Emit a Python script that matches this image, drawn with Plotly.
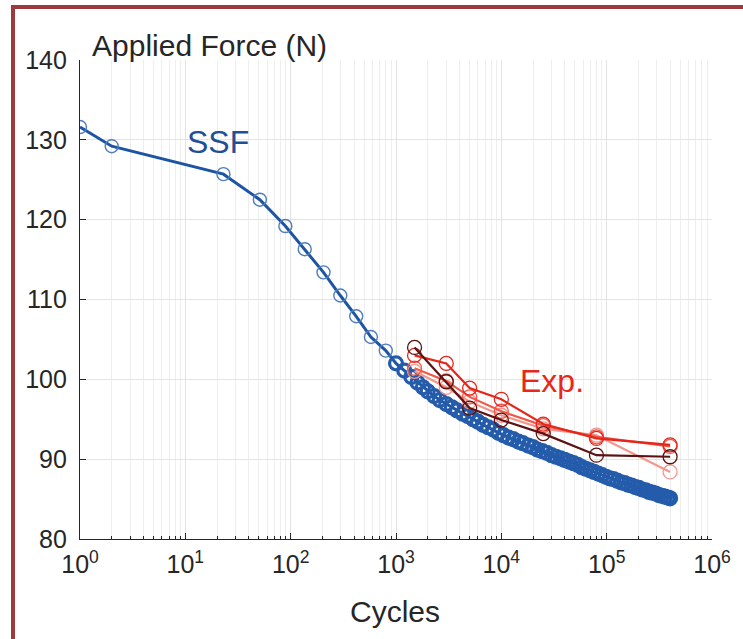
import plotly.graph_objects as go

# ---------------- data ----------------
ssf_cycles = [1, 2, 23, 51, 89, 136, 205, 296, 419, 578, 800,
              1000, 1200, 1400, 1600, 1800, 2000, 2300, 2600, 3000, 3400, 3800, 4300, 4800,
              5400, 6000, 6700, 7500, 8400, 9400, 10500, 11700, 13000, 14500, 16000, 18000,
              20000, 22000, 24500, 27000, 30000, 33000, 36500, 40000, 44000, 48500, 53000,
              58000, 63500, 69500, 76000, 83000, 90500, 98500, 107000, 116000, 126000,
              137000, 148000, 160000, 173000, 187000, 202000, 218000, 235000, 253000,
              272000, 292000, 313000, 335000, 358000, 382000, 400000]
ssf_force = [131.6, 129.2, 125.7, 122.5, 119.2, 116.3, 113.4, 110.5, 107.9, 105.3, 103.6,
             102.0, 101.1, 100.3, 99.6, 99.0, 98.5, 97.9, 97.4, 96.9, 96.5, 96.1, 95.7, 95.4,
             95.0, 94.7, 94.3, 94.0, 93.7, 93.3, 93.0, 92.7, 92.5, 92.2, 92.0, 91.7,
             91.5, 91.2, 91.0, 90.8, 90.5, 90.3, 90.1, 89.9, 89.7, 89.5, 89.3,
             89.0, 88.8, 88.6, 88.4, 88.2, 88.0, 87.8, 87.6, 87.5, 87.3,
             87.1, 87.0, 86.8, 86.7, 86.5, 86.4, 86.2, 86.1, 85.9,
             85.8, 85.7, 85.5, 85.4, 85.3, 85.2, 85.1]

exp_cycles = [1500, 3000, 5000, 10000, 25000, 80000, 400000]
exp_dark = [104.0, 99.7, 96.4, 94.9, 93.2, 90.5, 90.3]
exp_red = [103.0, 102.0, 98.9, 97.5, 94.4, 92.6, 91.8]
exp_light = [101.4, 99.8, 97.8, 96.0, 94.2, 92.8, 91.6]
exp_pink = [101.0, 99.0, 97.2, 95.5, 93.8, 93.0, 88.4]

x_tickvals = [1, 10, 100, 1000, 10000, 100000, 1000000]
x_ticktext = ["10<sup>0</sup>", "10<sup>1</sup>", "10<sup>2</sup>", "10<sup>3</sup>",
              "10<sup>4</sup>", "10<sup>5</sup>", "10<sup>6</sup>"]
y_tickvals = [80, 90, 100, 110, 120, 130, 140]

# ---------------- figure ----------------
FONT = "Liberation Sans, Arial, sans-serif"
TXT = "#262626"

# marker styling: sparse early markers are thin/light, dense markers bolder
ssf_mline = [1.4 if c < 1000 else 3.2 for c in ssf_cycles]
ssf_mcol = ["#4f7dbd" if c < 1000 else "#245cab" for c in ssf_cycles]

fig = go.Figure()

fig.add_trace(go.Scatter(
    x=ssf_cycles, y=ssf_force, mode="lines+markers",
    line=dict(color="#1d55a3", width=3),
    marker=dict(symbol="circle-open", size=13, color=ssf_mcol, line=dict(width=ssf_mline)),
    showlegend=False))

exp_series = [
    (exp_pink, "#f4968c"),
    (exp_light, "#ef5848"),
    (exp_red, "#e4261b"),
    (exp_dark, "#5c1212"),
]
for vals, col in exp_series:
    fig.add_trace(go.Scatter(
        x=exp_cycles, y=vals, mode="lines+markers",
        line=dict(color=col, width=2.2),
        marker=dict(symbol="circle-open", size=14, color=col, line=dict(width=1.3)),
        showlegend=False))

fig.update_layout(
    width=743, height=639,
    margin=dict(l=80, r=22, t=60, b=100),
    paper_bgcolor="white", plot_bgcolor="white",
    font=dict(family=FONT, color=TXT, size=24),
    xaxis=dict(
        type="log", range=[0, 6],
        tickvals=x_tickvals, ticktext=x_ticktext,
        ticks="inside", ticklen=6, tickcolor=TXT, tickwidth=1,
        showline=True, linecolor=TXT, linewidth=1.2, mirror=False,
        showgrid=True, gridcolor="#e3e3e3", gridwidth=1,
        minor=dict(dtick="D1", ticks="inside", ticklen=3, tickcolor=TXT,
                   showgrid=True, gridcolor="#eeeeee", gridwidth=1),
        tickfont=dict(size=25, color=TXT),
        ticklabelstandoff=3,
        zeroline=False,
    ),
    yaxis=dict(
        range=[80, 140], tickvals=y_tickvals,
        ticks="inside", ticklen=6, tickcolor=TXT, tickwidth=1,
        showline=True, linecolor=TXT, linewidth=1.2, mirror=False,
        showgrid=True, gridcolor="#e3e3e3", gridwidth=1,
        tickfont=dict(size=25, color=TXT),
        ticklabelstandoff=7,
        zeroline=False,
    ),
)

fig.add_annotation(xref="paper", yref="paper", x=0.0156, y=1.031,
                   xanchor="left", yanchor="middle", showarrow=False,
                   text="Applied Force (N)", font=dict(size=30, color=TXT, family=FONT))
fig.add_annotation(xref="paper", yref="paper", x=0.498, y=-0.152,
                   xanchor="center", yanchor="middle", showarrow=False,
                   text="Cycles", font=dict(size=30, color=TXT, family=FONT))
fig.add_annotation(x=1.311, y=129.7, xref="x", yref="y", showarrow=False,
                   text="SSF", font=dict(size=32, color="#1f4f96", family=FONT))
fig.add_annotation(x=4.485, y=99.8, xref="x", yref="y", showarrow=False,
                   text="Exp.", font=dict(size=32, color="#e8271b", family=FONT))

# outer dark-red frame
fig.add_shape(type="rect", xref="paper", yref="paper",
              x0=-0.106, x1=1.08, y0=-0.25, y1=1.1106,
              line=dict(color="#9b3b3b", width=4), fillcolor="rgba(0,0,0,0)", layer="above")

fig.write_html("out.html")
